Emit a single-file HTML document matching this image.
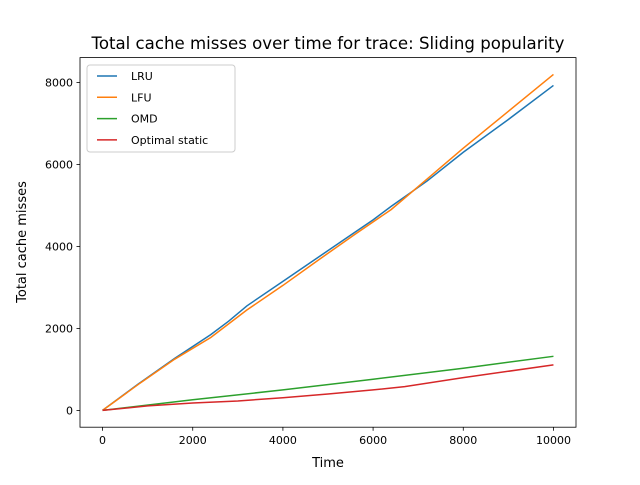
<!DOCTYPE html>
<html><head><meta charset="utf-8"><style>body{margin:0;background:#fff}svg text{font-family:"DejaVu Sans","Liberation Sans",sans-serif}</style></head>
<body>
<svg id="chart" width="640" height="480" xmlns="http://www.w3.org/2000/svg">
<rect width="640" height="480" fill="#fff"/>
<text x="328" y="49" font-size="16.6" text-anchor="middle">Total cache misses over time for trace: Sliding popularity</text>
<g id="plot"></g>
<rect x="80" y="57.6" width="496" height="369.6" fill="none" stroke="#000" stroke-width="0.8"/>
<text x="328" y="467" font-size="13" text-anchor="middle">Time</text>
<text transform="translate(26,242) rotate(-90)" font-size="13" text-anchor="middle">Total cache misses</text>
</svg>
<script>
const xTicks=[0,2000,4000,6000,8000,10000];
const yTicks=[0,2000,4000,6000,8000];
const seriesNames=["LRU","LFU","OMD","Optimal static"];
const seriesColors=["#1f77b4","#ff7f0e","#2ca02c","#d62728"];
const lruX=[0,800,1600,2400,2800,3200,4000,4800,5600,6000,6400,7200,8000,9000,10000];
const lruY=[0,650,1270,1850,2180,2550,3150,3750,4350,4650,4980,5600,6300,7100,7930];
const lfuX=[0,800,1600,2400,3200,4000,4800,5600,6400,7200,8000,9000,10000];
const lfuY=[0,640,1250,1780,2450,3050,3680,4300,4900,5650,6400,7300,8200];
const omdX=[0,2000,4000,6000,8000,10000];
const omdY=[0,260,500,760,1030,1320];
const optX=[0,1000,2000,3000,4000,5000,6000,6700,8000,10000];
const optY=[0,110,180,230,310,400,500,580,800,1110];
const NS="http://www.w3.org/2000/svg";
const L=80,R=576,T=57.6,B=427.2,x0=-500,x1=10500,y0=-410,y1=8610;
const sx=v=>L+(v-x0)/(x1-x0)*(R-L), sy=v=>B-(v-y0)/(y1-y0)*(B-T);
const g=document.getElementById('plot');
function mk(t,a){const e=document.createElementNS(NS,t);for(const k in a)e.setAttribute(k,a[k]);return e;}
xTicks.forEach(v=>{const l=mk('line',{x1:sx(v),x2:sx(v),y1:B,y2:B+3.5,stroke:'#000','stroke-width':0.8});

g.appendChild(l);
const t=mk('text',{x:sx(v),y:B+17,'font-size':11,'text-anchor':'middle'});t.textContent=v;

g.appendChild(t);});
yTicks.forEach(v=>{const l=mk('line',{x1:L-3.5,x2:L,y1:sy(v),y2:sy(v),stroke:'#000','stroke-width':0.8});

g.appendChild(l);
const t=mk('text',{x:L-7,y:sy(v)+4,'font-size':11,'text-anchor':'end'});t.textContent=v;

g.appendChild(t);});
const data=[[lruX,lruY],[lfuX,lfuY],[omdX,omdY],[optX,optY]];
data.forEach((d,i)=>{const p=mk('polyline',{points:d[0].map((x,j)=>sx(x)+','+sy(d[1][j])).join(' '),fill:'none',stroke:seriesColors[i],'stroke-width':1.5});

g.appendChild(p);});
const lg=mk('rect',{x:87,y:65,width:148,height:87,rx:3,fill:'#fff','fill-opacity':0.8,stroke:'#ccc'});

g.appendChild(lg);
seriesNames.forEach((n,i)=>{const y=76+i*21.3;
const l=mk('line',{x1:97,x2:117,y1:y,y2:y,stroke:seriesColors[i],'stroke-width':1.5});

g.appendChild(l);
const t=mk('text',{x:131,y:y+4,'font-size':11});t.textContent=n;

g.appendChild(t);});
</script>
</body></html>
